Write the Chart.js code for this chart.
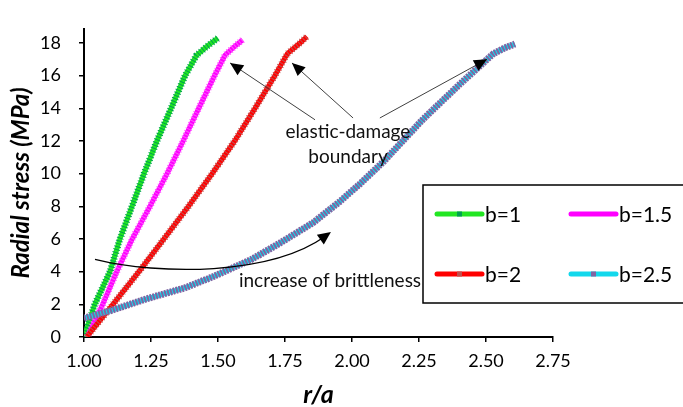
<!DOCTYPE html>
<html>
<head>
<meta charset="utf-8">
<script src="https://cdn.jsdelivr.net/npm/chart.js@4/dist/chart.umd.min.js"></script>
<style>
  html, body { margin: 0; padding: 0; background: #fff; }
  canvas { display: block; }
</style>
</head>
<body>
<canvas id="graph" width="683" height="407"></canvas>
<script>
// series: r/a and radial stress (MPa)
const seriesNames = ['b=1', 'b=1.5', 'b=2', 'b=2.5'];

const rB1 = [1.00, 1.04, 1.097, 1.134, 1.179, 1.224, 1.272, 1.325, 1.377, 1.42, 1.459, 1.50];
const sB1 = [0, 2, 4, 6, 8, 10, 12, 14, 16, 17.25, 17.8, 18.3];

const rB15 = [1.012, 1.07, 1.122, 1.18, 1.246, 1.31, 1.37, 1.428, 1.487, 1.526, 1.556, 1.592];
const sB15 = [0, 2, 4, 6, 8, 10, 12, 14, 16, 17.25, 17.7, 18.2];

const rB2 = [1.01, 1.108, 1.205, 1.298, 1.39, 1.478, 1.562, 1.638, 1.712, 1.759, 1.806, 1.832];
const sB2 = [0, 2, 4, 6, 8, 10, 12, 14, 16, 17.35, 18.0, 18.4];

const rB25 = [1.00, 1.10, 1.234, 1.375, 1.4825, 1.625, 1.731, 1.855, 1.955, 2.03, 2.117, 2.266, 2.403, 2.527, 2.57, 2.608];
const sB25 = [1.15, 1.62, 2.34, 3.0, 3.7, 4.75, 5.75, 7.0, 8.3, 9.38, 10.73, 13.35, 15.49, 17.34, 17.7, 17.94];

const xTicks = [1.00, 1.25, 1.50, 1.75, 2.00, 2.25, 2.50, 2.75];
const yTicks = [0, 2, 4, 6, 8, 10, 12, 14, 16, 18];

const lineColors = ['#22e622', '#ff00ff', '#ff0000', '#12d8ec'];
const markColors = ['#00a050', '#ff55ff', '#c0504d', '#8064a2'];

const FONT = 'Lato, "Open Sans", sans-serif';

const allR = [rB1, rB15, rB2, rB25];
const allS = [sB1, sB15, sB2, sB25];

function toPoints(r, s) {
  return r.map((x, i) => ({ x: x, y: s[i] }));
}

function buildDatasets() {
  const sets = [];
  seriesNames.forEach((name, i) => {
    const base = 2 * (seriesNames.length - 1 - i);
    // thick coloured line
    sets.push({
      label: name, data: toPoints(allR[i], allS[i]), borderColor: lineColors[i], borderWidth: 5,
      pointRadius: 0, tension: 0, order: base + 1
    });
    // marker texture on top of it
    sets.push({
      label: name + ' markers', data: toPoints(allR[i], allS[i]), borderColor: markColors[i],
      borderWidth: 7, borderDash: i === 3 ? [2, 1] : [1, 2], pointRadius: 0, tension: 0, order: base
    });
  });
  return sets;
}

function drawArrowHead(ctx, x0, y0, x1, y1, len, wid) {
  const a = Math.atan2(y1 - y0, x1 - x0);
  ctx.save();
  ctx.translate(x1, y1);
  ctx.rotate(a);
  ctx.beginPath();
  ctx.moveTo(0, 0);
  ctx.lineTo(-len, wid / 2);
  ctx.lineTo(-len, -wid / 2);
  ctx.closePath();
  ctx.fill();
  ctx.restore();
}

// annotations in data units (r/a, stress)
const boundaryArrows = [
  [[1.862, 13.3], [1.545, 16.78]],
  [[2.004, 13.41], [1.776, 16.78]],
  [[2.104, 13.41], [2.504, 17.01]]
];
const brittleCurve = [[1.041, 4.76], [1.284, 3.77], [1.694, 3.77], [1.899, 6.15]];

function CreateNotesPlugin() {
  return {
    id: 'notes',
    afterDatasetsDraw: (chart) => {
      const ctx = chart.ctx;
      const xs = chart.scales.x;
      const ys = chart.scales.y;
      const px = (p) => [xs.getPixelForValue(p[0]), ys.getPixelForValue(p[1])];

      ctx.save();
      ctx.fillStyle = '#000';
      ctx.strokeStyle = '#404040';
      ctx.lineWidth = 1;
      boundaryArrows.forEach(([a, b]) => {
        const p0 = px(a), p1 = px(b);
        ctx.beginPath();
        ctx.moveTo(p0[0], p0[1]);
        ctx.lineTo(p1[0], p1[1]);
        ctx.stroke();
        drawArrowHead(ctx, p0[0], p0[1], p1[0], p1[1], 13, 12);
      });

      const c = brittleCurve.map(px);
      ctx.strokeStyle = '#000';
      ctx.lineWidth = 1.3;
      ctx.beginPath();
      ctx.moveTo(c[0][0], c[0][1]);
      ctx.bezierCurveTo(c[1][0], c[1][1], c[2][0], c[2][1], c[3][0], c[3][1]);
      ctx.stroke();
      drawArrowHead(ctx, c[2][0], c[2][1], c[3][0] + 6, c[3][1] - 4.5, 13, 12);

      ctx.font = '19px ' + FONT;
      ctx.textAlign = 'center';
      ctx.textBaseline = 'middle';
      ctx.fillStyle = '#111';
      const t1 = px([1.985, 12.57]);
      ctx.fillText('elastic-damage', t1[0], t1[1]);
      const t2 = px([1.985, 11.0]);
      ctx.fillText('boundary', t2[0], t2[1]);
      const t3 = px([1.918, 3.45]);
      ctx.fillText('increase of brittleness', t3[0], t3[1]);
      ctx.restore();
    }
  };
}

function CreateLegendPlugin() {
  return {
    id: 'boxLegend',
    afterDraw: (chart) => {
      const ctx = chart.ctx;
      ctx.save();
      ctx.fillStyle = '#fff';
      ctx.fillRect(423, 185, 270, 118);
      ctx.strokeStyle = '#000';
      ctx.lineWidth = 1.5;
      ctx.strokeRect(423, 185, 270, 118);
      const cols = [437, 571];
      const rows = [214, 274];
      ctx.font = '21px ' + FONT;
      ctx.textBaseline = 'middle';
      seriesNames.forEach((name, i) => {
        const x = cols[i % 2];
        const y = rows[Math.floor(i / 2)];
        ctx.strokeStyle = lineColors[i];
        ctx.lineWidth = 5;
        ctx.lineCap = 'round';
        ctx.beginPath();
        ctx.moveTo(x, y);
        ctx.lineTo(x + 45, y);
        ctx.stroke();
        if (i !== 1) {
          ctx.fillStyle = markColors[i];
          ctx.fillRect(x + 20, y - 2.5, 5, 5);
        }
        ctx.fillStyle = '#000';
        ctx.textAlign = 'left';
        ctx.fillText(name, x + 48, y + 1);
      });
      ctx.restore();
    }
  };
}

new Chart(document.getElementById('graph'), {
  type: 'line',
  data: { datasets: buildDatasets() },
  options: {
    responsive: false,
    animation: false,
    devicePixelRatio: 1,
    layout: { padding: { left: 0, right: 130, top: 12, bottom: 0 } },
    plugins: { legend: { display: false }, tooltip: { enabled: false } },
    scales: {
      x: {
        type: 'linear',
        min: xTicks[0],
        max: xTicks[xTicks.length - 1],
        afterBuildTicks: (s) => { s.ticks = xTicks.map(v => ({ value: v })); },
        afterFit: (s) => { s.height = 70; },
        ticks: {
          maxRotation: 0, padding: 8, color: '#000',
          font: { family: FONT, size: 18 },
          callback: (v) => Number(v).toFixed(2)
        },
        grid: { drawOnChartArea: false, tickLength: 5, color: '#000', lineWidth: 1.5 },
        border: { color: '#000', width: 2 },
        title: {
          display: true, text: 'r/a', color: '#000', padding: 0,
          font: { family: FONT, size: 25, weight: 'bold', style: 'italic', lineHeight: 1 }
        }
      },
      y: {
        type: 'linear',
        min: 0,
        max: 18.87,
        afterBuildTicks: (s) => { s.ticks = yTicks.map(v => ({ value: v })); },
        afterFit: (s) => { s.width = 84; },
        ticks: { padding: 18, color: '#000', font: { family: FONT, size: 18 } },
        grid: { drawOnChartArea: false, tickLength: 5, color: '#000', lineWidth: 1.5 },
        border: { color: '#000', width: 2 },
        title: {
          display: true, text: 'Radial stress (MPa)', color: '#000', padding: { top: 7, bottom: 0 },
          font: { family: FONT, size: 24, weight: 'bold', style: 'italic', lineHeight: 1.2 }
        }
      }
    }
  },
  plugins: [CreateNotesPlugin(), CreateLegendPlugin()]
});
</script>
</body>
</html>
